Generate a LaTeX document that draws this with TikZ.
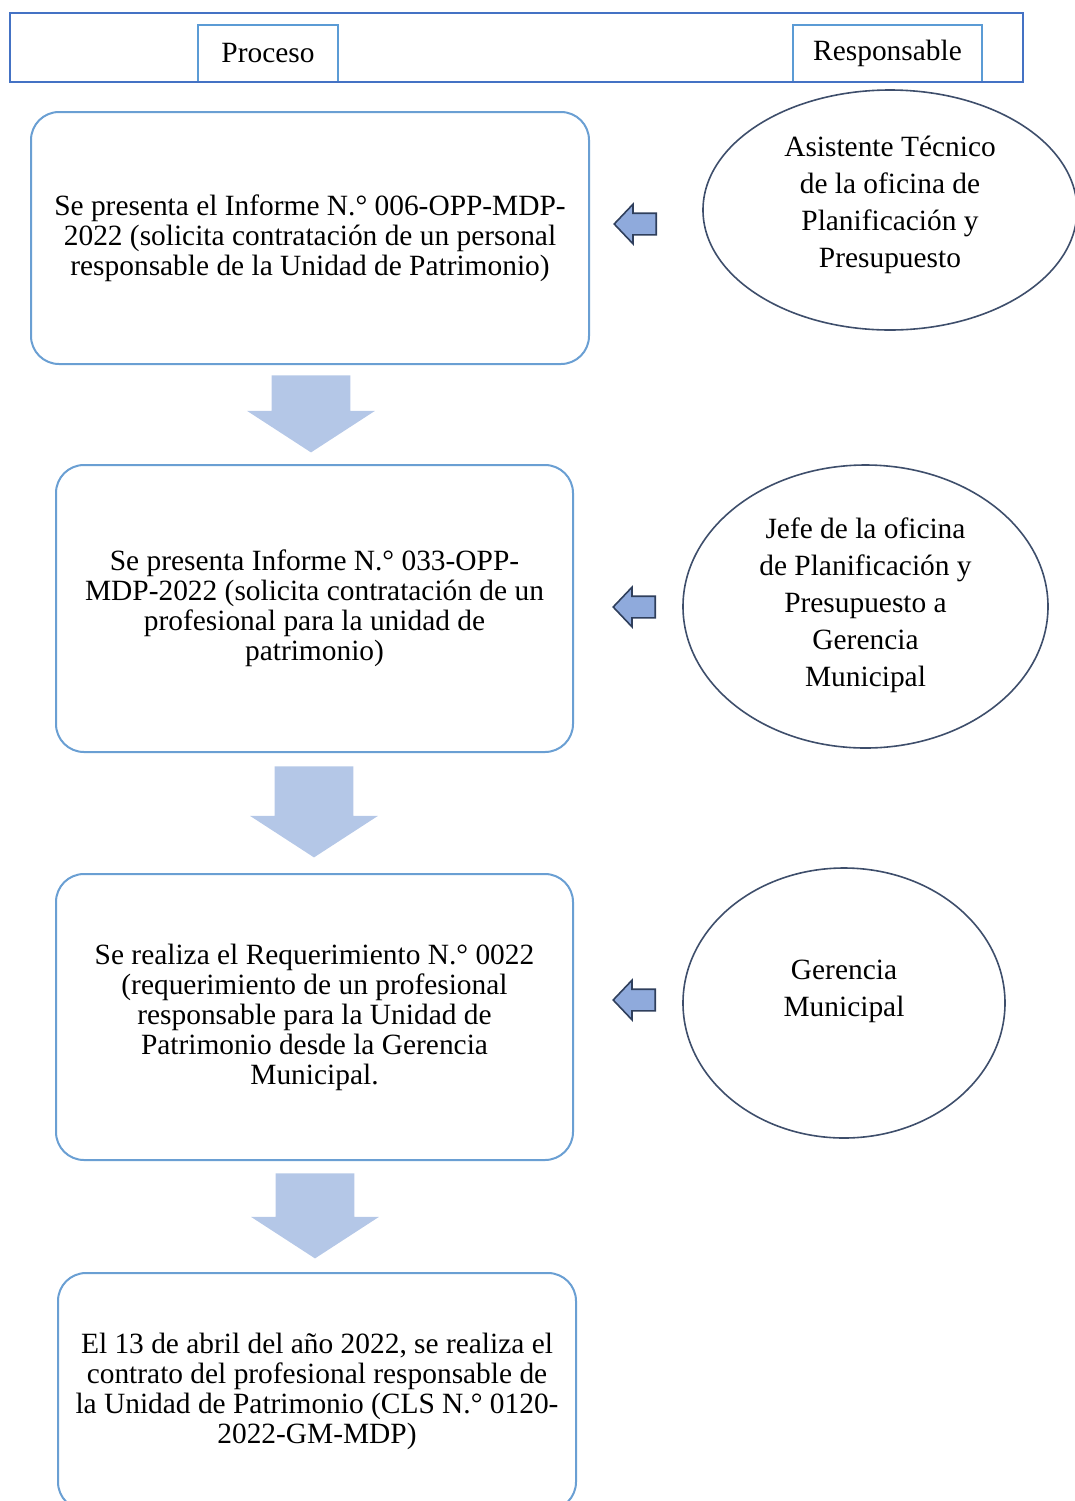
\documentclass[tikz,border=0pt]{standalone}
\usepackage{fontspec}
\setmainfont{Liberation Serif}
\usetikzlibrary{shapes.geometric, shapes.arrows}

\definecolor{hdrblue}{HTML}{4472C4}
\definecolor{tabblue}{HTML}{5B9BD5}
\definecolor{boxblue}{HTML}{6A9FD3}
\definecolor{ovalgray}{HTML}{3E4E6B}
\definecolor{arrowfill}{HTML}{8FAADC}
\definecolor{arrowline}{HTML}{2F3F5C}
\definecolor{bigarrow}{HTML}{B4C7E7}

\tikzset{
    tab/.style={draw=tabblue, line width=0.8pt, fill=white, minimum height=28.5pt, inner sep=0pt, font=\fontsize{14.7}{15}\selectfont},
    stepbox/.style={draw=boxblue, line width=1pt, rounded corners=14pt, align=center, inner sep=0pt, font=\fontsize{14.7}{15}\selectfont},
    resp/.style={draw=ovalgray, line width=0.8pt, ellipse, inner sep=0pt},
    resptext/.style={align=center, font=\fontsize{14.7}{18.5}\selectfont},
    leftarrow/.style={single arrow, draw=arrowline, fill=arrowfill, line width=0.8pt, shape border rotate=180, minimum height=21pt, minimum width=19pt, single arrow head extend=4.5pt, single arrow tip angle=93, inner xsep=0pt, inner ysep=5pt, anchor=tail},
    downarrow/.style={single arrow, fill=bigarrow, shape border rotate=270, minimum width=63.5pt, single arrow head extend=12.25pt, single arrow tip angle=114, inner xsep=19.5pt, inner ysep=0pt, anchor=tail}
}

\begin{document}
\begin{tikzpicture}[x=0.5pt, y=-0.5pt]
    \useasboundingbox (0,0) rectangle (1075,1501);

    % Header
    \node[tab, minimum width=70pt] (proceso) at (268,53.5) {Proceso};
    \node[tab, minimum width=94.5pt] (responsable) at (887.5,53.5) {Responsable};
    \node[draw=hdrblue, line width=1pt, minimum width=506.5pt, minimum height=34.5pt, inner sep=0pt] (header) at (516.5,47.5) {};

    % Process boxes
    \node[stepbox, minimum width=279pt, minimum height=126pt] (informe1) at (310,238) {Se presenta el Informe N.° 006-OPP-MDP-\\2022 (solicita contratación de un personal\\responsable de la Unidad de Patrimonio)};
    \node[stepbox, minimum width=258.5pt, minimum height=143.5pt] (informe2) at (314.5,608.5) {Se presenta Informe N.° 033-OPP-\\MDP-2022 (solicita contratación de un\\profesional para la unidad de\\patrimonio)};
    \node[stepbox, minimum width=258.5pt, minimum height=143pt] (requerimiento) at (314.5,1017) {Se realiza el Requerimiento N.° 0022\\(requerimiento de un profesional\\responsable para la Unidad de\\Patrimonio desde la Gerencia\\Municipal.};
    \node[stepbox, minimum width=259pt, minimum height=118.5pt] (contrato) at (317,1391.5) {El 13 de abril del año 2022, se realiza el\\contrato del profesional responsable de\\la Unidad de Patrimonio (CLS N.° 0120-\\2022-GM-MDP)};

    % Responsables
    \node[resp, minimum width=187pt, minimum height=120pt, label={[resptext, yshift=2.5pt]center:Asistente Técnico\\de la oficina de\\Planificación y\\Presupuesto}] (asistente) at (890,210) {};
    \node[resp, minimum width=182.5pt, minimum height=141.5pt, label={[resptext, yshift=0.5pt]center:Jefe de la oficina\\de Planificación y\\Presupuesto a\\Gerencia\\Municipal}] (jefe) at (865.5,606.5) {};
    \node[resp, minimum width=161pt, minimum height=135pt, label={[resptext, yshift=6pt]center:Gerencia\\Municipal}] (gerencia) at (844,1003) {};

    % Arrows
    \node[leftarrow] (a1) at (657,224) {};
    \node[leftarrow] (a2) at (656,607) {};
    \node[leftarrow] (a3) at (656,1000) {};
    \node[downarrow, minimum height=38.5pt] (d1) at (311,375) {};
    \node[downarrow, minimum height=45.5pt] (d2) at (314,766) {};
    \node[downarrow, minimum height=42.5pt] (d3) at (315,1173) {};
\end{tikzpicture}
\end{document}
